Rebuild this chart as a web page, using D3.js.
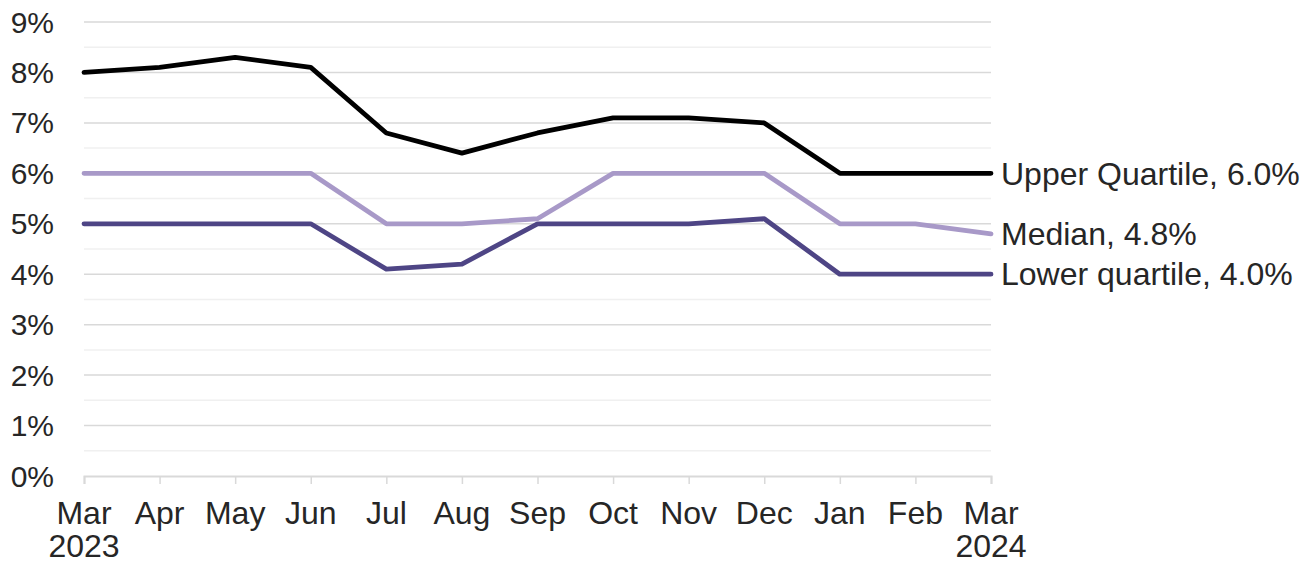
<!DOCTYPE html>
<html><head><meta charset="utf-8">
<script src="https://cdn.jsdelivr.net/npm/d3@7"></script>
<style>body{margin:0;background:#fff;} text{font-family:"Liberation Sans",Arial,sans-serif;fill:#262626;}</style>
</head><body>
<svg id="c" width="1314" height="565"></svg>
<script>
const months = ["Mar","Apr","May","Jun","Jul","Aug","Sep","Oct","Nov","Dec","Jan","Feb","Mar"];
const years = ["2023","","","","","","","","","","","","2024"];
const upperQuartile = [8.0,8.1,8.3,8.1,6.8,6.4,6.8,7.1,7.1,7.0,6.0,6.0,6.0];
const median = [6.0,6.0,6.0,6.0,5.0,5.0,5.1,6.0,6.0,6.0,5.0,5.0,4.8];
const lowerQuartile = [5.0,5.0,5.0,5.0,4.1,4.2,5.0,5.0,5.0,5.1,4.0,4.0,4.0];
const seriesNames = ["Upper Quartile","Median","Lower quartile"];
const yTicks = [0,1,2,3,4,5,6,7,8,9];

(function(){
const svg = d3.select("#c");
const mLeft = 84, mRight = 991, mTop = 22, mBottom = 476;
const x = d3.scalePoint().domain(d3.range(months.length)).range([mLeft, mRight]);
const y = d3.scaleLinear().domain([0, 9]).range([mBottom, mTop]);

// minor gridlines
svg.append("g").selectAll("line").data(d3.range(0.5, 9, 1)).join("line")
  .attr("x1", mLeft).attr("x2", mRight).attr("y1", d => y(d)).attr("y2", d => y(d))
  .attr("stroke", "#f0f0f0").attr("stroke-width", 1.5);
// major gridlines
svg.append("g").selectAll("line").data(yTicks.slice(1)).join("line")
  .attr("x1", mLeft).attr("x2", mRight).attr("y1", d => y(d)).attr("y2", d => y(d))
  .attr("stroke", "#d9d9d9").attr("stroke-width", 1.5);

// y axis labels
svg.append("g").selectAll("text").data(yTicks).join("text")
  .attr("x", 54).attr("y", d => y(d)).attr("dy", "0.35em")
  .attr("text-anchor", "end").attr("font-size", 30).text(d => d + "%");

// x axis
const xAxis = d3.axisBottom(x).tickSize(8).tickFormat("");
const gx = svg.append("g").attr("transform", `translate(0,${mBottom})`).call(xAxis);
gx.select(".domain").attr("stroke", "#d9d9d9").attr("stroke-width", 2);
gx.selectAll(".tick line").attr("stroke", "#d9d9d9").attr("stroke-width", 1.5);

svg.append("g").selectAll("text").data(months).join("text")
  .attr("x", (d, i) => x(i)).attr("y", 524).attr("text-anchor", "middle")
  .attr("font-size", 32).text(d => d);
svg.append("g").selectAll("text").data(years).join("text")
  .attr("x", (d, i) => x(i)).attr("y", 557).attr("text-anchor", "middle")
  .attr("font-size", 32).text(d => d);

const series = [
  {name: seriesNames[0], values: upperQuartile, color: "#000000"},
  {name: seriesNames[1], values: median, color: "#a899c8"},
  {name: seriesNames[2], values: lowerQuartile, color: "#4e4585"}
];
const line = d3.line().x((d, i) => x(i)).y(d => y(d));
[series[2], series[1], series[0]].forEach(s => {
  svg.append("path").attr("d", line(s.values)).attr("fill", "none")
    .attr("stroke", s.color).attr("stroke-width", 4.8)
    .attr("stroke-linejoin", "round").attr("stroke-linecap", "round");
});
series.forEach(s => {
  const v = s.values[s.values.length - 1];
  svg.append("text").attr("x", mRight + 10).attr("y", y(v)).attr("dy", "0.35em")
    .attr("font-size", 32).text(`${s.name}, ${v.toFixed(1)}%`);
});
})();
</script>
</body></html>
